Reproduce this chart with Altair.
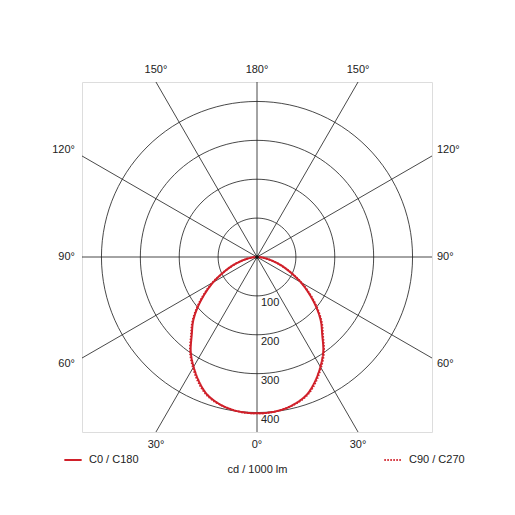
import altair as alt
import pandas as pd

# ---- data ----
GAMMA = [0, 5, 10, 15, 20, 25, 30, 35, 40, 45, 50, 55, 60, 65, 70, 75, 80, 85, 90]
C0_C180 = [402, 401, 397, 389, 376, 353, 326, 297, 261, 232, 198, 163, 130, 97, 70, 45, 26, 11, 0]
C90_C270 = [402, 401, 397, 390, 378, 356, 329, 300, 264, 235, 201, 166, 132, 98, 70, 45, 26, 11, 0]
SERIES = ["C0 / C180", "C90 / C270"]
RINGS = [100, 200, 300, 400]
RING_LABELS = ["100", "200", "300", "400"]
SPOKES = [0, 30, 60, 90, 120, 150, 180, 210, 240, 270, 300, 330]
TOP_ANGLES = [-150, 180, 150]
BOTTOM_ANGLES = [-30, 0, 30]
LEFT_ANGLES = [-120, -90, -60]
RIGHT_ANGLES = [120, 90, 60]
AXIS_TITLE = "cd / 1000 lm"
LIM = 450

RED = "#d0202a"
FONT = "Liberation Sans"
TXT = "#222222"

# ---- tables ----
rows = []
for name, vals in zip(SERIES, [C0_C180, C90_C270]):
    for g, v in zip(GAMMA, vals):
        rows.append({"series": name, "phi": g, "I": v})
        if g != 0:
            rows.append({"series": name, "phi": -g, "I": v})
curve = pd.DataFrame(rows)

ring_rows = []
for r in RINGS:
    for a in range(0, 361, 3):
        ring_rows.append({"r": r, "a": a})
rings = pd.DataFrame(ring_rows)

spokes = pd.DataFrame({"a": SPOKES})
ringlab = pd.DataFrame({"r": RINGS, "t": RING_LABELS})

xscale = alt.Scale(domain=[-LIM, LIM], nice=False, zero=False)
yscale = alt.Scale(domain=[-LIM, LIM], nice=False, zero=False)
XAXIS = alt.Axis(title=AXIS_TITLE, labels=False, ticks=False, domain=False, grid=False,
                 titlePadding=31, titleFontSize=11, titleFontWeight="normal",
                 titleColor=TXT, titleFont=FONT)


def X(field):
    return alt.X(field, type="quantitative", scale=xscale, axis=XAXIS)


def Y(field):
    return alt.Y(field, type="quantitative", scale=yscale, axis=None)


ring_layer = alt.Chart(rings).transform_calculate(
    x="datum.r * sin(datum.a * PI / 180)",
    y="datum.r * cos(datum.a * PI / 180)",
).mark_line(color="#1a1a1a", strokeWidth=0.8).encode(
    x=X("x"), y=Y("y"), detail="r:N", order="a:Q"
)

spoke_layer = alt.Chart(spokes).transform_calculate(
    x0="0", y0="0",
    x1="1000 * sin(datum.a * PI / 180)",
    y1="-1000 * cos(datum.a * PI / 180)",
).mark_rule(color="#1a1a1a", strokeWidth=0.8, clip=True).encode(
    x=X("x0"), y=Y("y0"), x2="x1:Q", y2="y1:Q"
)

center_layer = alt.Chart(pd.DataFrame({"x": [0], "y": [0]})).mark_point(
    filled=True, color="#111", size=14, opacity=1
).encode(x=X("x"), y=Y("y"))

legend = alt.Legend(title=None, orient="none", legendX=-19, legendY=368, direction="horizontal",
                    symbolType="stroke", symbolSize=300, symbolStrokeWidth=2,
                    labelFont=FONT, labelFontSize=11, labelColor=TXT, labelOffset=6,
                    columnPadding=241, padding=0)

curve_layer = alt.Chart(curve).transform_calculate(
    x="datum.I * sin(datum.phi * PI / 180)",
    y="-datum.I * cos(datum.phi * PI / 180)",
).mark_line(strokeWidth=2, interpolate="catmull-rom").encode(
    x=X("x"), y=Y("y"),
    color=alt.Color("series:N", scale=alt.Scale(domain=SERIES, range=[RED, RED]), legend=legend),
    strokeDash=alt.StrokeDash("series:N", scale=alt.Scale(domain=SERIES, range=[[1, 0], [1.5, 1.5]]),
                              legend=legend),
    order="phi:Q",
)

ringlab_layer = alt.Chart(ringlab).transform_calculate(
    x="0", y="-datum.r"
).mark_text(align="left", baseline="top", dx=4, dy=1, font=FONT, fontSize=11, fill=TXT).encode(
    x=X("x"), y=Y("y"), text="t:N"
)


def edge_labels(angles, xexpr, yexpr, **kw):
    df = pd.DataFrame({"phi": angles, "t": [f"{abs(a)}°" for a in angles]})
    return alt.Chart(df).transform_calculate(x=xexpr, y=yexpr).mark_text(
        font=FONT, fontSize=11, fill=TXT, **kw
    ).encode(x=X("x"), y=Y("y"), text="t:N")


top = edge_labels(TOP_ANGLES,
                  f"{LIM} * sin(datum.phi*PI/180) / abs(cos(datum.phi*PI/180))", f"{LIM}",
                  align="center", baseline="middle", dy=-12)
bottom = edge_labels(BOTTOM_ANGLES,
                     f"{LIM} * sin(datum.phi*PI/180) / abs(cos(datum.phi*PI/180))", f"-{LIM}",
                     align="center", baseline="middle", dy=13)
left = edge_labels(LEFT_ANGLES, f"-{LIM}",
                   f"-1.06 * {LIM} * cos(datum.phi*PI/180) / abs(sin(datum.phi*PI/180))",
                   align="right", baseline="middle", dx=-7)
right = edge_labels(RIGHT_ANGLES, f"{LIM}",
                    f"-1.06 * {LIM} * cos(datum.phi*PI/180) / abs(sin(datum.phi*PI/180))",
                    align="left", baseline="middle", dx=5)

chart = alt.layer(
    ring_layer, spoke_layer, curve_layer, center_layer, ringlab_layer, top, bottom, left, right
).properties(
    width=350, height=350,
    autosize=alt.AutoSizeParams(type="none"),
    padding={"left": 74, "top": 74, "right": 70, "bottom": 60},
).configure_view(
    stroke="#808080", strokeWidth=1
).configure(background="white")

chart.save("out.html", embed_options={"renderer": "svg", "actions": False})
